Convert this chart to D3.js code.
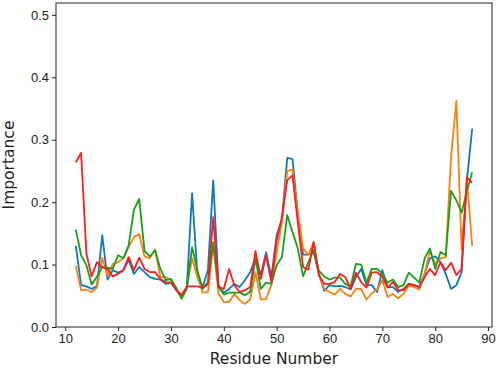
<!DOCTYPE html>
<html>
<head>
<meta charset="utf-8">
<script src="https://cdn.jsdelivr.net/npm/d3@7"></script>
<style>
  body { margin: 0; background: #fff; }
  svg { display: block; font-family: "DejaVu Sans", sans-serif; }
  .axis text { font-size: 13px; fill: #222; }
  .axis path, .axis line { stroke: #222; }
</style>
</head>
<body>
<div id="chart"></div>
<script>
// residue numbers 12..87
const residues = [12,13,14,15,16,17,18,19,20,21,22,23,24,25,26,27,28,29,30,31,32,33,34,35,36,37,38,39,40,41,42,43,44,45,46,47,48,49,50,51,52,53,54,55,56,57,58,59,60,61,62,63,64,65,66,67,68,69,70,71,72,73,74,75,76,77,78,79,80,81,82,83,84,85,86,87];

const blueVals = [0.130,0.067,0.065,0.061,0.065,0.147,0.076,0.091,0.087,0.091,0.107,0.085,0.096,0.088,0.080,0.077,0.076,0.069,0.071,0.059,0.048,0.064,0.214,0.085,0.064,0.091,0.235,0.067,0.055,0.061,0.069,0.064,0.075,0.088,0.110,0.083,0.120,0.080,0.147,0.172,0.271,0.269,0.182,0.116,0.116,0.120,0.085,0.058,0.067,0.065,0.066,0.064,0.060,0.080,0.093,0.067,0.067,0.056,0.091,0.064,0.064,0.056,0.061,0.069,0.067,0.064,0.085,0.110,0.113,0.104,0.085,0.061,0.067,0.088,0.235,0.318];

const orangeVals = [0.098,0.059,0.060,0.056,0.063,0.111,0.081,0.101,0.104,0.110,0.128,0.144,0.149,0.113,0.110,0.124,0.080,0.080,0.075,0.059,0.048,0.064,0.110,0.080,0.055,0.056,0.131,0.054,0.040,0.040,0.053,0.043,0.037,0.044,0.088,0.044,0.045,0.067,0.120,0.168,0.250,0.252,0.182,0.126,0.115,0.136,0.085,0.061,0.056,0.052,0.061,0.053,0.049,0.061,0.061,0.044,0.054,0.060,0.075,0.048,0.053,0.046,0.053,0.067,0.064,0.060,0.085,0.122,0.101,0.110,0.112,0.272,0.362,0.124,0.236,0.130];

const greenVals = [0.156,0.115,0.099,0.068,0.081,0.096,0.095,0.093,0.115,0.110,0.131,0.188,0.205,0.122,0.113,0.123,0.093,0.075,0.077,0.063,0.045,0.061,0.128,0.091,0.061,0.072,0.136,0.064,0.052,0.055,0.055,0.055,0.051,0.056,0.110,0.061,0.071,0.069,0.099,0.112,0.179,0.152,0.126,0.081,0.104,0.123,0.090,0.081,0.076,0.079,0.079,0.069,0.065,0.101,0.100,0.071,0.093,0.093,0.085,0.071,0.076,0.064,0.067,0.087,0.079,0.071,0.110,0.126,0.093,0.120,0.115,0.218,0.203,0.183,0.218,0.248];

const redVals = [0.264,0.279,0.118,0.081,0.104,0.096,0.093,0.081,0.085,0.091,0.112,0.091,0.111,0.093,0.088,0.088,0.077,0.072,0.071,0.060,0.051,0.065,0.065,0.065,0.063,0.069,0.176,0.064,0.061,0.093,0.067,0.056,0.059,0.064,0.122,0.077,0.115,0.072,0.139,0.176,0.235,0.243,0.168,0.096,0.092,0.136,0.083,0.069,0.069,0.072,0.085,0.080,0.061,0.087,0.072,0.063,0.087,0.088,0.080,0.063,0.072,0.059,0.059,0.069,0.067,0.064,0.080,0.093,0.083,0.104,0.091,0.103,0.083,0.093,0.240,0.231];

const xTicks = [10, 20, 30, 40, 50, 60, 70, 80, 90];
const yTicks = [0.0, 0.1, 0.2, 0.3, 0.4, 0.5];

const series = [
    { name: "blue", values: blueVals, color: "#0f77bf" },
    { name: "orange", values: orangeVals, color: "#ff7f0e" },
    { name: "green", values: greenVals, color: "#18a018" },
    { name: "red", values: redVals, color: "#ff1c1c" }
];

const W = 498, H = 369;
const margin = { top: 3, right: 6, bottom: 42, left: 56 };
const width = W - margin.left - margin.right;
const height = H - margin.top - margin.bottom;

const svg = d3.select("#chart").append("svg")
    .attr("width", W)
    .attr("height", H)
    .append("g")
    .attr("transform", `translate(${margin.left},${margin.top})`);

const x = d3.scaleLinear().domain([8.25, 90.75]).range([0, width]);
const y = d3.scaleLinear().domain([0, 0.519]).range([height, 0]);

// axes
svg.append("g")
    .attr("class", "axis")
    .attr("transform", `translate(0,${height})`)
    .call(d3.axisBottom(x).tickValues(xTicks).tickSize(4).tickPadding(3).tickFormat(d3.format("d")))
    .call(g => g.select(".domain").remove());

svg.append("g")
    .attr("class", "axis")
    .call(d3.axisLeft(y).tickValues(yTicks).tickSize(4).tickPadding(3).tickFormat(d3.format(".1f")))
    .call(g => g.select(".domain").remove());

// frame
svg.append("rect")
    .attr("width", width)
    .attr("height", height)
    .attr("fill", "none")
    .attr("stroke", "#222")
    .attr("stroke-width", 1);

// lines
const line = d3.line()
    .x((d, i) => x(residues[i]))
    .y(d => y(d));

svg.selectAll(".series")
    .data(series)
    .enter()
    .append("path")
    .attr("class", "series")
    .attr("fill", "none")
    .attr("stroke", d => d.color)
    .attr("stroke-width", 1.8)
    .attr("stroke-linejoin", "round")
    .attr("d", d => line(d.values));

// axis labels
svg.append("text")
    .attr("x", width / 2)
    .attr("y", height + 37)
    .attr("text-anchor", "middle")
    .style("font-size", "15.5px")
    .style("fill", "#222")
    .text("Residue Number");

svg.append("text")
    .attr("transform", "rotate(-90)")
    .attr("x", -height / 2)
    .attr("y", -42)
    .attr("text-anchor", "middle")
    .style("font-size", "15.5px")
    .style("fill", "#222")
    .text("Importance");
</script>
</body>
</html>
